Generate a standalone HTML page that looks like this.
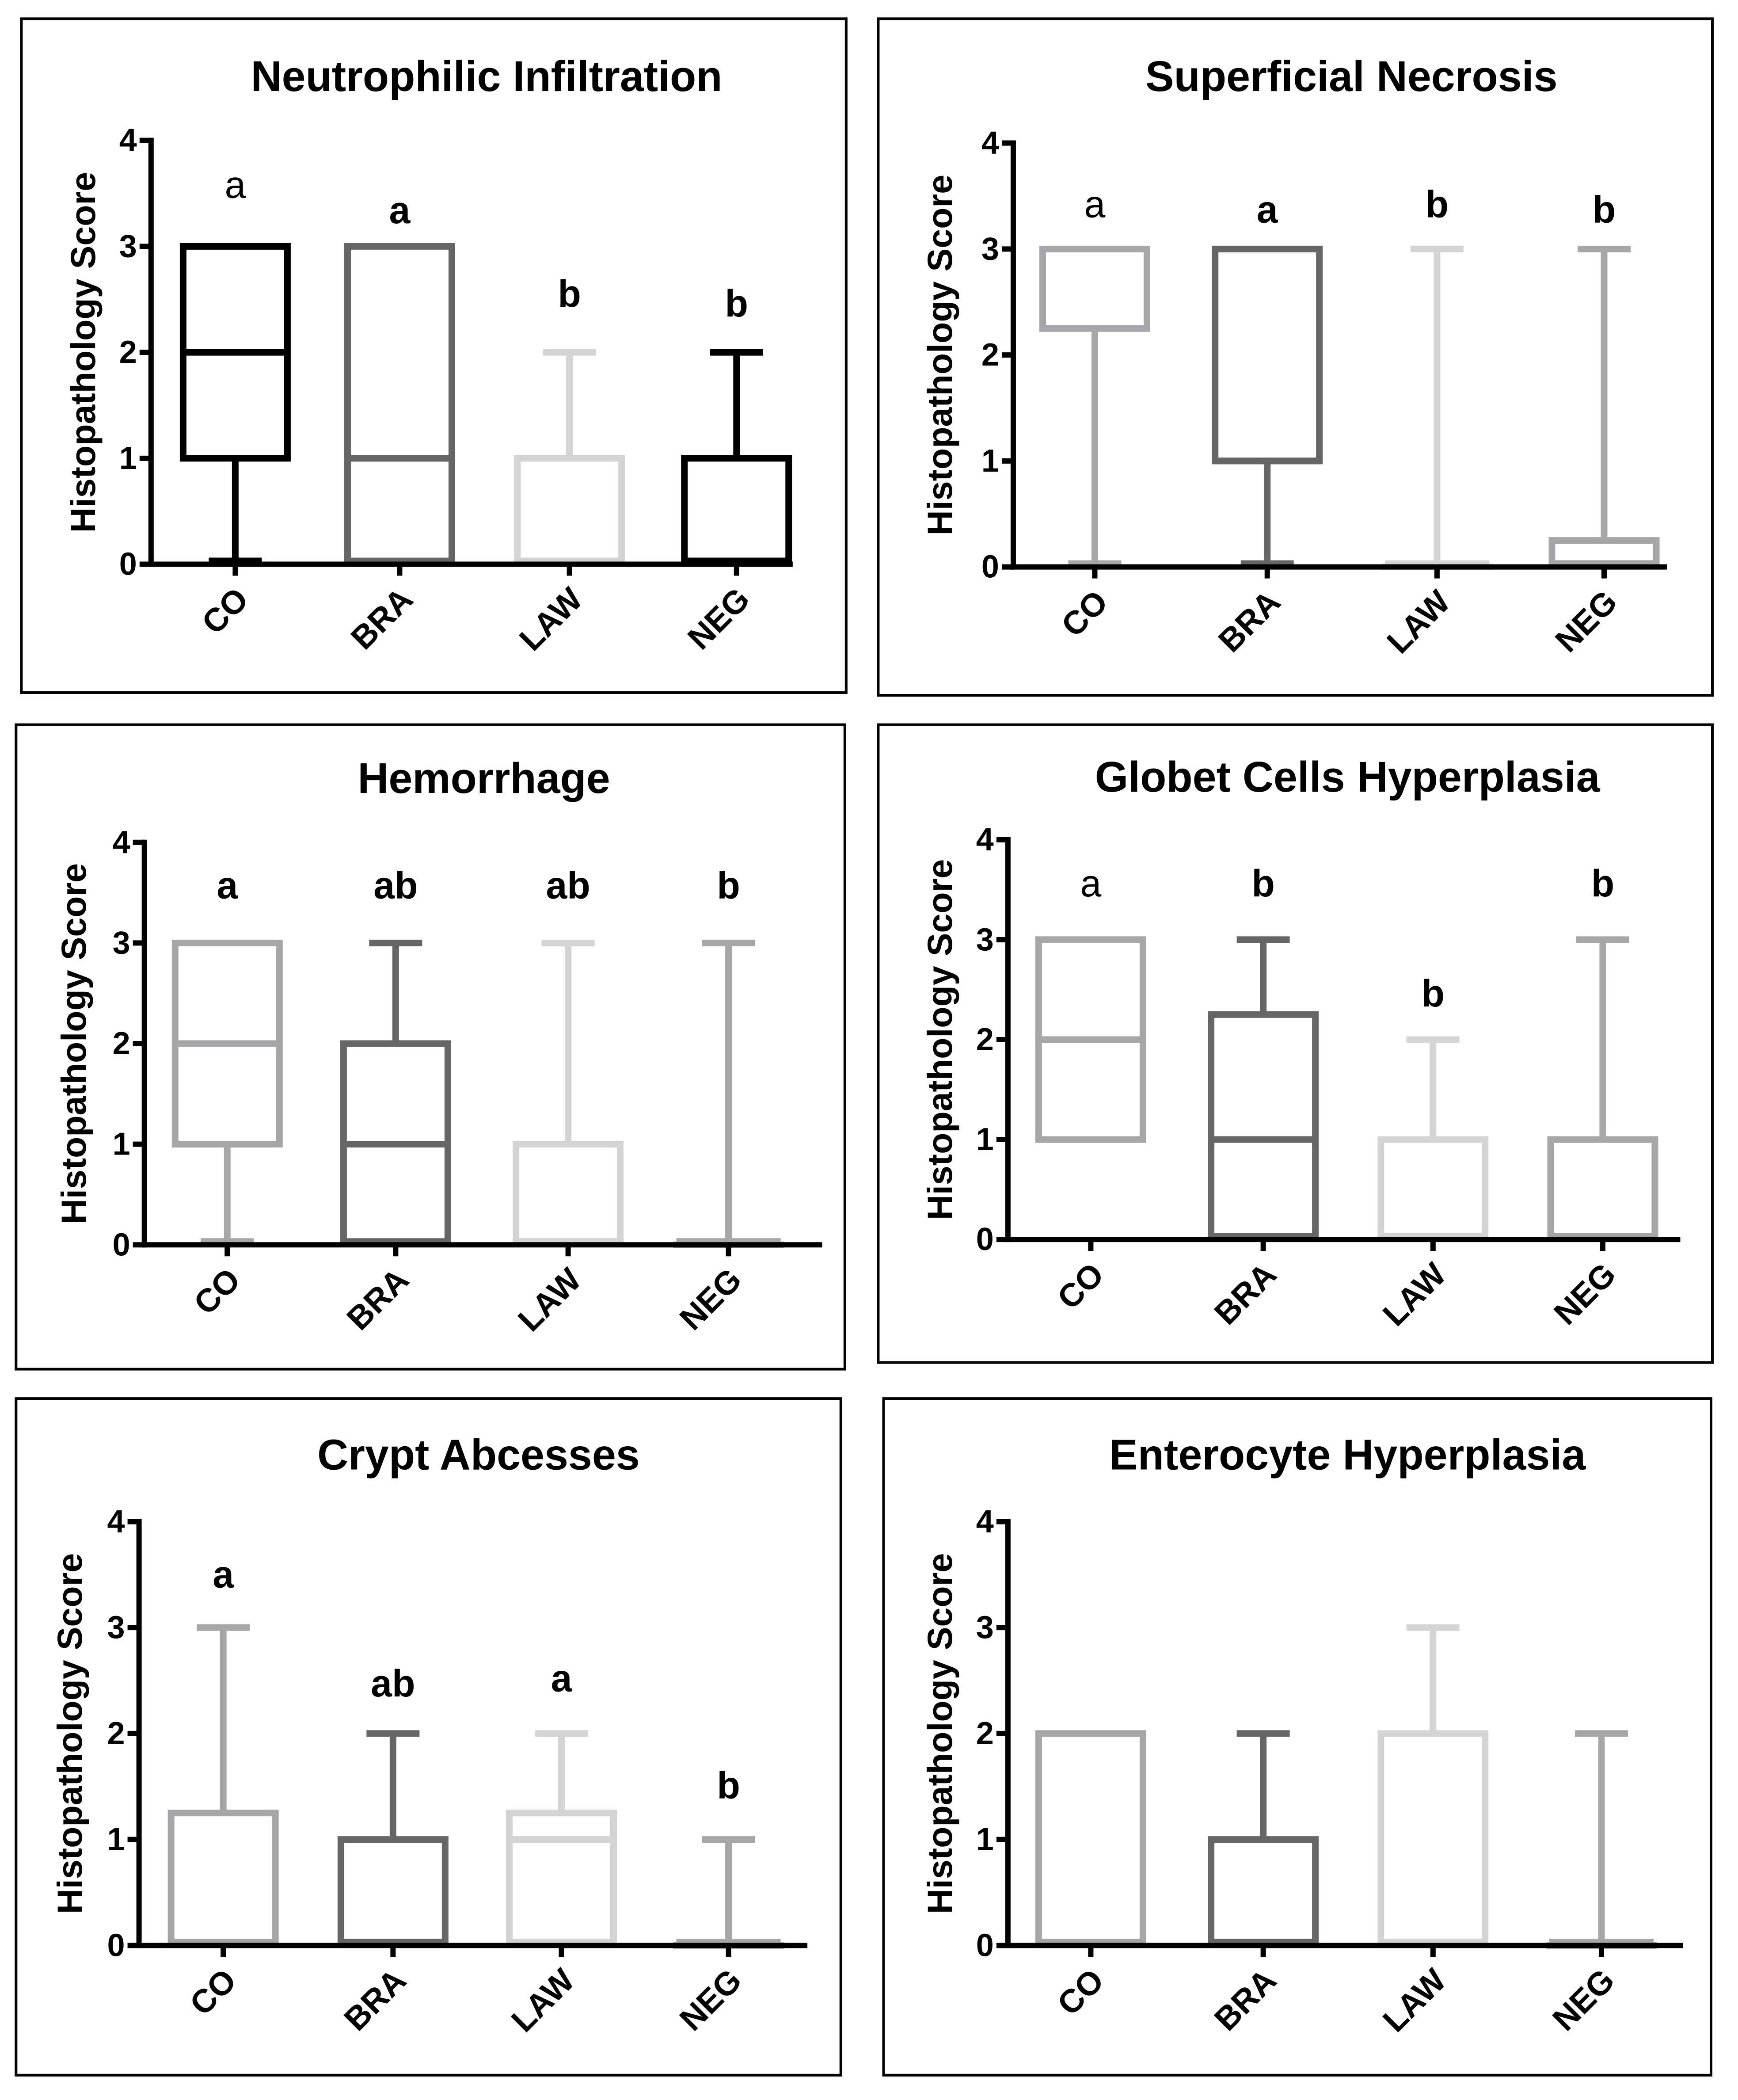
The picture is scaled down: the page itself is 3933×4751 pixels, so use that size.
<!DOCTYPE html>
<html><head><meta charset="utf-8"><style>
html,body{margin:0;padding:0;background:#fff;}
svg{display:block;font-family:"Liberation Sans",Arial,sans-serif;}
</style></head><body>
<svg id="chart" width="3933" height="4751" viewBox="0 0 3933 4751" xmlns="http://www.w3.org/2000/svg"></svg>
<script>
const categories = ["CO","BRA","LAW","NEG"];
const yTicks = [0,1,2,3,4];
// panel titles
const titles = ["Neutrophilic Infiltration","Superficial Necrosis","Hemorrhage","Globet Cells Hyperplasia","Crypt Abcesses","Enterocyte Hyperplasia"];
// box stats per panel: [min, q1, median, q3, max] per category
const p1Stats = [[0,1,2,3,3],[0,0,1,3,3],[0,0,0,1,2],[0,0,0,1,2]];
const p2Stats = [[0,2.25,3,3,3],[0,1,1,3,3],[0,0,0,0,3],[0,0,0,0.25,3]];
const p3Stats = [[0,1,2,3,3],[0,0,1,2,3],[0,0,0,1,3],[0,0,0,0,3]];
const p4Stats = [[1,1,2,3,3],[0,0,1,2.25,3],[0,0,0,1,2],[0,0,0,1,3]];
const p5Stats = [[0,0,0,1.25,3],[0,0,0,1,2],[0,0,1,1.25,2],[0,0,0,0,1]];
const p6Stats = [[0,0,0,2,2],[0,0,0,1,2],[0,0,0,2,3],[0,0,0,0,2]];
// significance letters and their heights (score units)
const p1Letters = ["a","a","b","b"], p1LetterY = [3.58,3.34,2.55,2.46], p1Bold=[0,1,1,1];
const p2Letters = ["a","a","b","b"], p2LetterY = [3.42,3.37,3.42,3.37], p2Bold=[0,1,1,1];
const p3Letters = ["a","ab","ab","b"], p3LetterY = [3.57,3.57,3.57,3.57], p3Bold=[1,1,1,1];
const p4Letters = ["a","b","b","b"], p4LetterY = [3.56,3.56,2.46,3.56], p4Bold=[0,1,1,1];
const p5Letters = ["a","ab","a","b"], p5LetterY = [3.5,2.47,2.52,1.51], p5Bold=[1,1,1,1];
const p6Letters = [], p6LetterY = [], p6Bold=[];

const S = 3.025;
const NS = "http://www.w3.org/2000/svg";
const svg = document.getElementById('chart');
const layout = [
 {fx:16,fy:14,fx2:633,fy2:518, ax:113,y0:422,y4:105,xr:593,cx:[176,299,426,551],tx:364,ty:57,yt:62,col:["#000","#666","#d4d4d4","#000"]},
 {fx:657,fy:14,fx2:1281,fy2:520, ax:758,y0:424,y4:107,xr:1247,cx:[819,948,1075,1200],tx:1011,ty:57,yt:703,col:["#a6a6a8","#666","#d4d4d4","#a6a6a8"]},
 {fx:12,fy:542,fx2:632,fy2:1024, ax:108,y0:931,y4:630,xr:615,cx:[170,296,425,545],tx:362,ty:582,yt:55,col:["#a6a6a8","#666","#d4d4d4","#a6a6a8"]},
 {fx:657,fy:542,fx2:1281,fy2:1019, ax:754,y0:927,y4:628,xr:1257,cx:[816,945,1072,1199],tx:1008,ty:581,yt:703,col:["#a6a6a8","#666","#d4d4d4","#a6a6a8"]},
 {fx:12,fy:1046,fx2:629,fy2:1552, ax:104,y0:1455,y4:1138,xr:604,cx:[167,294,420,545],tx:358,ty:1088,yt:52,col:["#a6a6a8","#666","#d4d4d4","#a6a6a8"]},
 {fx:661,fy:1046,fx2:1280,fy2:1552, ax:754,y0:1455,y4:1138,xr:1259,cx:[816,945,1072,1198],tx:1008,ty:1088,yt:703,col:["#a6a6a8","#666","#d4d4d4","#a6a6a8"]}
];
const stats = [p1Stats,p2Stats,p3Stats,p4Stats,p5Stats,p6Stats];
const letters = [p1Letters,p2Letters,p3Letters,p4Letters,p5Letters,p6Letters];
const letterY = [p1LetterY,p2LetterY,p3LetterY,p4LetterY,p5LetterY,p6LetterY];
const letterBold = [p1Bold,p2Bold,p3Bold,p4Bold,p5Bold,p6Bold];

function mk(tag, attrs, parent){const e=document.createElementNS(NS,tag);for(const k in attrs)e.setAttribute(k,attrs[k]);(parent||svg).appendChild(e);return e;}

layout.forEach((L,pi)=>{
  const g = mk('g',{});
  
  
  const frame = mk('rect',{x:L.fx*S,y:L.fy*S,width:(L.fx2-L.fx)*S,height:(L.fy2-L.fy)*S,fill:'none',stroke:'#000','stroke-width':6},g);
  
  
  const yS = v => L.y0*S - v*(L.y0-L.y4)*S/4;
  const xS = i => L.cx[i]*S;
  const ax = L.ax*S;
  const t = mk('text',{x:L.tx*S,y:L.ty*S,'text-anchor':'middle','dominant-baseline':'central','font-size':97,'font-weight':'bold',fill:'#000'},g);
  t.textContent = titles[pi];
  
  
  const yt = mk('text',{x:0,y:0,'text-anchor':'middle','dominant-baseline':'central','font-size':79,'font-weight':'bold',fill:'#000',transform:`translate(${L.yt*S},${(yS(0)+yS(4))/2}) rotate(-90)`},g);
  yt.textContent='Histopathology Score';
  
  
  stats[pi].forEach((s,i)=>{
    const c=L.col[i], x=xS(i), hw=118, cw=60, sw=15;
    const bg=mk('g',{stroke:c,'stroke-width':sw,fill:'none'},g);
    
    
    const lo = Math.min(yS(s[1]), yS(0)-sw/2);
    mk('rect',{x:x-hw,y:yS(s[3]),width:2*hw,height:Math.max(lo-yS(s[3]),0.01)},bg);
    mk('line',{x1:x-hw,x2:x+hw,y1:Math.min(yS(s[2]),lo),y2:Math.min(yS(s[2]),lo)},bg);
    if(s[4]>s[3]){mk('line',{x1:x,x2:x,y1:yS(s[3]),y2:yS(s[4])},bg);mk('line',{x1:x-cw,x2:x+cw,y1:yS(s[4]),y2:yS(s[4])},bg);}
    if(s[0]<s[1]){mk('line',{x1:x,x2:x,y1:yS(s[1]),y2:yS(s[0])},bg);mk('line',{x1:x-cw,x2:x+cw,y1:yS(s[0])-sw/2,y2:yS(s[0])-sw/2},bg);}
  });
  const axg = mk('g',{stroke:'#000','stroke-width':12},g);
  
  
  mk('line',{x1:ax,x2:ax,y1:yS(4)-6,y2:yS(0)+6},axg);
  mk('line',{x1:ax-6,x2:L.xr*S,y1:yS(0),y2:yS(0)},axg);
  yTicks.forEach(v=>{
    mk('line',{x1:ax-26,x2:ax,y1:yS(v),y2:yS(v)},axg);
    const tl=mk('text',{x:ax-32,y:yS(v),'text-anchor':'end','dominant-baseline':'central','font-size':72,'font-weight':'bold',fill:'#000'},g);
    tl.textContent=v;
    
    
  });
  categories.forEach((c,i)=>{
    mk('line',{x1:xS(i),x2:xS(i),y1:yS(0),y2:yS(0)+26},axg);
    const cl=mk('text',{x:0,y:0,'text-anchor':'end','font-size':74,'font-weight':'bold',fill:'#000',transform:`translate(${xS(i)+34},${yS(0)+84}) rotate(-45)`},g);
    cl.textContent=c;
    
    
  });
  letters[pi].forEach((l,i)=>{
    const lt=mk('text',{x:xS(i),y:yS(letterY[pi][i]),'text-anchor':'middle','dominant-baseline':'central','font-size':86,'font-weight':letterBold[pi][i]?'bold':'normal',fill:'#000'},g);
    lt.textContent=l;
    
    
  });
});
</script>
</body></html>
